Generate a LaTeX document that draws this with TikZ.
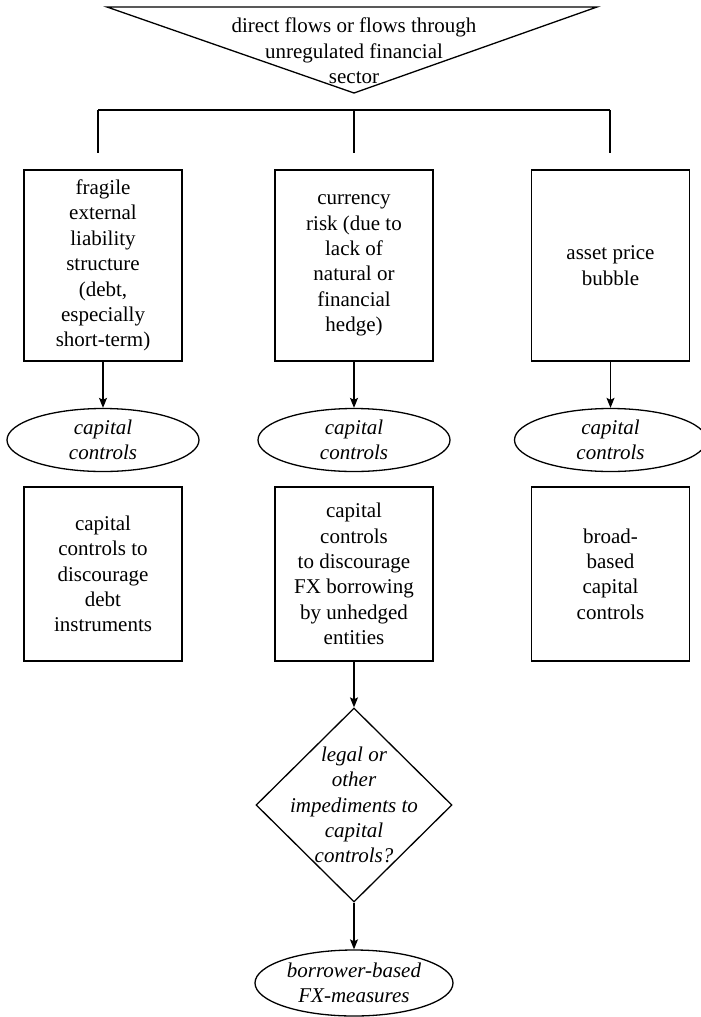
\documentclass[tikz,border=0pt]{standalone}
\usepackage{fontspec}
\setmainfont{Liberation Serif}
\usetikzlibrary{shapes.geometric,arrows.meta}

\newcommand\chartfont{\fontsize{10.5}{12.7}\selectfont}

\tikzset{
  box/.style={draw, line width=0.65pt, minimum width=79pt, inner sep=0pt, align=center, font=\chartfont},
  riskbox/.style={box, minimum height=95.5pt},
  toolbox/.style={box, minimum height=87pt},
  tool/.style={draw, ellipse, line width=0.65pt, minimum width=96pt, minimum height=31.5pt, inner sep=0pt, align=center, font=\chartfont\itshape},
  decision/.style={draw, diamond, line width=0.65pt, minimum width=98pt, minimum height=97pt, inner sep=0pt},
  link/.style={line width=0.65pt},
  arrow/.style={link, -{Stealth[length=5pt,width=4pt,inset=1pt]}},
}

\begin{document}
\begin{tikzpicture}[x=0.5pt,y=-0.5pt]
 \useasboundingbox (0,0) rectangle (701,1017);

 % source of the flows
 \draw[link] (107,7) -- (597,7) -- (354,93) -- cycle;
 \node[font=\chartfont, align=center] (src) at (354,51) {direct flows or flows through\\unregulated financial\\sector};

 % split bar
 \coordinate (barL) at (98,110);
 \coordinate (barM) at (354,110);
 \coordinate (barR) at (610,110);
 \coordinate (legL) at (98,153);
 \coordinate (legM) at (354,153);
 \coordinate (legR) at (610,153);
 \draw[link] (barL) -- (barR);
 \draw[link] (barL) -- (legL) (barM) -- (legM) (barR) -- (legR);

 % risks
 \node[riskbox] (fragile) at (103,265.5) {fragile\\external\\liability\\structure\\(debt,\\especially\\short-term)};
 \node[riskbox] (currency) at (354,265.5) {currency\\risk (due to\\lack of\\natural or\\financial\\hedge)};
 \node[riskbox] (bubble) at (610.5,265.5) {asset price\\bubble};

 % tools
 \node[tool] (ccA) at (103,440) {capital\\controls};
 \node[tool] (ccB) at (354,440) {capital\\controls};
 \node[tool] (ccC) at (610.5,440) {capital\\controls};

 % measures
 \node[toolbox] (debtcc) at (103,574) {capital\\controls to\\discourage\\debt\\instruments};
 \node[toolbox] (fxcc) at (354,574) {capital\\controls\\to discourage\\FX borrowing\\by unhedged\\entities};
 \node[toolbox] (broadcc) at (610.5,574) {broad-\\based\\capital\\controls};

 % fallback
 \node[decision] (imped) at (354,805) {};
 \node[font=\chartfont\itshape, align=center] (impedtext) at (imped.center) {legal or\\other\\impediments to\\capital\\controls?};
 \node[tool, minimum width=99pt, minimum height=33pt] (bbm) at (354,983) {borrower-based\\FX-measures};

 \draw[arrow] (fragile) -- (ccA);
 \draw[arrow] (currency) -- (ccB);
 \draw[arrow] (bubble) -- (ccC);
 \draw[arrow] (fxcc) -- (imped);
 \draw[arrow] (imped) -- (bbm);
\end{tikzpicture}
\end{document}
